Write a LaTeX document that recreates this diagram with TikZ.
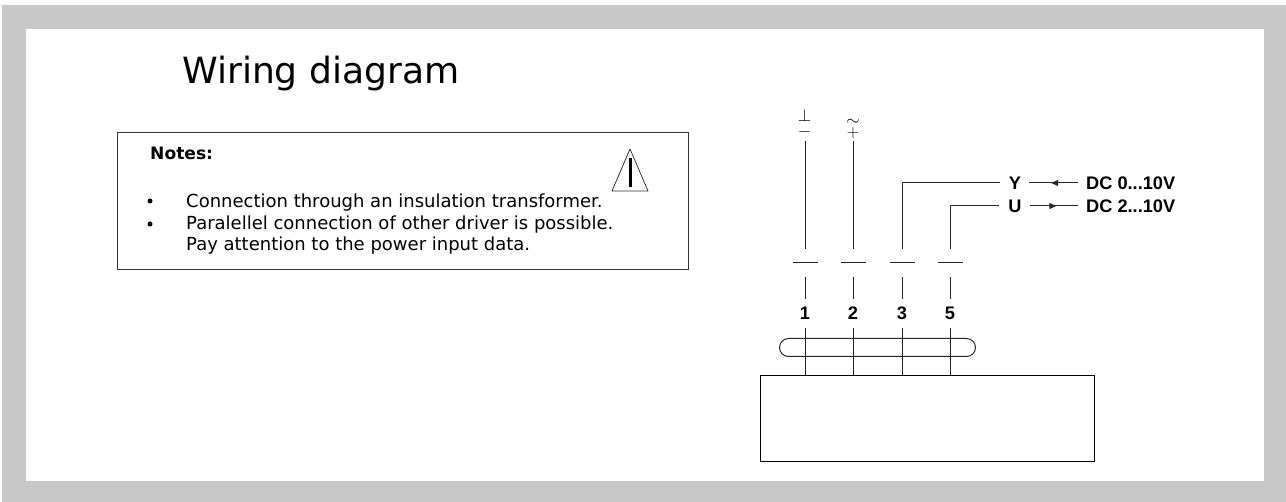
\documentclass[tikz,border=0pt]{standalone}
\usepackage{fontspec}
\setmainfont{DejaVu Sans}
\newfontfamily\termfont{Liberation Sans}
\usetikzlibrary{calc}
\usetikzlibrary{arrows.meta}
\usetikzlibrary{decorations.markings}
\definecolor{framegray}{HTML}{C8C8C8}
\tikzset{
 wire/.style={black!85, line width=1pt},
 term/.style={font=\termfont\fontsize{18.2}{18}\selectfont\bfseries, inner sep=0, text=black},
 note/.style={font=\fontsize{18}{21}\selectfont, anchor=base west, inner sep=0},
 sym/.style={inner sep=0, font=\fontsize{16}{16}\selectfont},
 midarrow/.style={postaction={decorate}, decoration={markings, mark=at position .55 with {\arrow{Stealth[length=7pt,width=6pt,inset=0pt]}}}}
}
\begin{document}
\begin{tikzpicture} [x=1pt,y=-1pt]
\useasboundingbox (0,0) rectangle (1286,502);
\fill[framegray] (2,5) rectangle (1286,502);
\fill[white] (26,29) rectangle (1263.5,481);
\node[font=\fontsize{36.1}{36}\selectfont, anchor=base west, inner sep=0] (title) at (182,84) {Wiring diagram};
% notes
\node[draw=black!80, line width=1pt, minimum width=571pt, minimum height=137pt, anchor=north west, inner sep=0] (notes) at (117,132) {};
\node[note, font=\fontsize{17.1}{21}\selectfont\bfseries] (head) at (150,160) {Notes:};
\node[note] (n1) at (186,208) {Connection through an insulation transformer.};
\node[note] (n2) at (186,230) {Paralellel connection of other driver is possible.};
\node[note] (n3) at (186,251) {Pay attention to the power input data.};
\foreach \y/\n in {201/a,224/b} {
 \fill (150,\y) circle (2.5) coordinate (dot\n);
}
\coordinate (warn) at (612,191);
\draw[black!80, line width=.8pt, line join=round] (warn) --++(36,0) --++(-18,-42) -- cycle;
\draw[black, line width=3pt] (630,158) --++(0,29);
% terminals
\node[draw=black, line width=1pt, minimum width=334pt, minimum height=86pt, anchor=north west, inner sep=0] (box) at (760,375) {};
\node[draw=black!85, line width=1pt, rounded corners=9pt, minimum width=196pt, minimum height=18pt, anchor=north west, inner sep=0] (pill) at (779,338) {};
\foreach \x/\n/\t in {805/1/141, 853/2/141, 902/3/183, 950/5/206} {
 \node[term] (t\n) at (\x,313) {\n};
 \coordinate (bar\n) at (\x,263);
 \coordinate (up\n) at (\x,\t);
 \draw[wire] ($(bar\n)+(-12.5,0)$) --++(25,0);
 \draw[wire] ($(bar\n)+(0,14)$) -- ($(bar\n)+(0,36)$);
 \draw[wire] (up\n) -- ($(bar\n)+(0,-14)$);
 \draw[wire] ($(t\n)+(0,15)$) -- (t\n |- box.north);
}
% supply symbols
\node[sym] (gnd) at (804.5,116) {$\perp$};
\node[sym] (minus) at (804.5,132) {$-$};
\node[sym] (ac) at (853,122) {$\sim$};
\node[sym] (plus) at (853,133) {$+$};
% signals
\node[term] (Y) at (1015,183) {Y};
\node[term] (U) at (1015,206) {U};
\node[term, anchor=west] (dc0) at (1086,183) {DC 0...10V};
\node[term, anchor=west] (dc2) at (1086,206) {DC 2...10V};
\draw[wire] (up3) -- ($(Y.west)+(-9,0)$);
\draw[wire] (up5) -- ($(U.west)+(-9,0)$);
\draw[wire, midarrow] ($(dc0.west)+(-8,0)$) -- ($(Y.east)+(8,0)$);
\draw[wire, midarrow] ($(U.east)+(8,0)$) -- ($(dc2.west)+(-8,0)$);
\end{tikzpicture}
\end{document}
